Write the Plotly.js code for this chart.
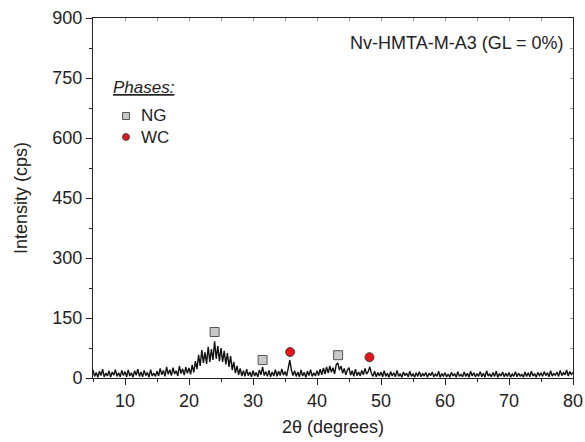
<!DOCTYPE html>
<html><head><meta charset="utf-8">
<script src="https://cdn.plot.ly/plotly-3.0.1.min.js"></script>
<style>body{margin:0;background:#fff}#c{width:585px;height:442px}</style>
</head><body><div id="c"></div>
<script>
// XRD intensity, 2θ from 5 to 80 step 0.25
const intensity = [
20,4,14,2,17,6,22,3,12,5,18,2,15,7,21,4,13,3,19,6,
16,3,20,5,13,2,18,7,22,4,15,3,19,6,14,2,21,5,12,4,
17,5,24,8,19,4,28,9,21,6,26,10,18,5,30,11,23,7,27,12,
25,9,33,14,42,22,58,30,70,38,64,35,78,40,72,45,92,48,80,42,
75,40,68,34,62,28,55,20,40,12,30,8,24,5,18,4,22,6,15,3,
18,5,14,3,20,8,28,6,16,4,19,3,15,5,21,4,17,6,23,7,
16,5,24,45,20,6,18,4,15,3,20,5,14,2,17,6,21,4,13,5,
18,6,22,8,25,10,28,12,30,14,26,10,33,38,20,30,12,24,8,20,
26,7,18,4,22,6,15,5,19,8,24,10,16,28,12,4,17,3,14,5,
15,3,18,4,12,2,16,5,13,3,19,4,11,2,15,6,12,3,17,4,
10,2,13,4,16,3,11,5,14,2,12,6,15,3,10,4,17,2,11,5,
13,3,10,2,14,5,11,2,16,4,9,3,15,4,12,2,17,5,13,3,
11,4,16,3,12,2,18,5,10,3,14,4,17,2,11,5,15,3,12,4,
14,2,10,4,16,3,12,5,9,2,15,4,13,3,17,5,11,2,14,6,
12,4,16,6,13,3,18,5,11,7,15,4,19,6,13,8,20,5,16,9,
14];
const ngX = [24.0, 31.5, 43.3];
const ngY = [115, 45, 57];
const wcX = [35.8, 48.2];
const wcY = [65, 52];
const xTicks = [10,20,30,40,50,60,70,80];
const yTicks = [0,150,300,450,600,750,900];
const phaseNames = ['NG', 'WC'];

const traces = [
  {type:'scatter', mode:'lines', x0:5, dx:0.25, y:intensity, line:{color:'#111', width:1.4}, showlegend:false, hoverinfo:'skip'},
  {type:'scatter', mode:'markers', name:phaseNames[0], x:ngX, y:ngY, showlegend:false, marker:{symbol:'square', size:9, color:'#c8c8c8', line:{color:'#555', width:1}}},
  {type:'scatter', mode:'markers', name:phaseNames[1], x:wcX, y:wcY, showlegend:false, marker:{symbol:'circle', size:9, color:'#e8141c', line:{color:'#444', width:1}}},
  {type:'scatter', mode:'none', x:ngX, y:ngY, xaxis:'x2', yaxis:'y2', showlegend:false, hoverinfo:'skip'}
];
const font = {family:'Liberation Sans, Arial, sans-serif', size:18, color:'#222'};
const layout = {
  width:585, height:442,
  margin:{l:93, r:12, t:18, b:64},
  paper_bgcolor:'#fff', plot_bgcolor:'#fff',
  font:font,
  showlegend:false,
  xaxis:{range:[5,80], tickvals:xTicks, ticks:'outside', ticklen:6, tickcolor:'#222', showline:true, linecolor:'#222', linewidth:1, mirror:true, showgrid:false, zeroline:false,
    minor:{dtick:5, ticks:'outside', ticklen:3, tickcolor:'#222'},
    title:{text:'2θ (degrees)', font:{size:18}, standoff:10}},
  yaxis:{range:[0,900], tickvals:yTicks, ticks:'outside', ticklen:6, tickcolor:'#222', showline:true, linecolor:'#222', linewidth:1, mirror:true, showgrid:false, zeroline:false,
    minor:{dtick:75, ticks:'outside', ticklen:3, tickcolor:'#222'},
    title:{text:'Intensity (cps)', font:{size:18}, standoff:20}},
  xaxis2:{overlaying:'x', side:'top', range:[5,80], tick0:5, dtick:5, ticks:'inside', ticklen:3, tickcolor:'#999', showticklabels:false, showline:false, showgrid:false, zeroline:false},
  yaxis2:{overlaying:'y', side:'right', range:[0,900], tick0:0, dtick:75, ticks:'inside', ticklen:3, tickcolor:'#999', showticklabels:false, showline:false, showgrid:false, zeroline:false},
  shapes:[
    {type:'rect', xref:'paper', yref:'paper', x0:0.0615, x1:0.076, y0:0.718, y1:0.7375, fillcolor:'#c8c8c8', line:{color:'#555', width:1}},
    {type:'circle', xref:'paper', yref:'paper', x0:0.0615, x1:0.076, y0:0.660, y1:0.679, fillcolor:'#e8141c', line:{color:'#444', width:1}}
  ],
  annotations:[
    {text:'Nv-HMTA-M-A3 (GL = 0%)', xref:'paper', yref:'paper', x:0.985, y:0.965, xanchor:'right', yanchor:'top', showarrow:false, font:{size:18}},
    {text:'<i><u>Phases:</u></i>', xref:'paper', yref:'paper', x:0.038, y:0.806, xanchor:'left', yanchor:'middle', showarrow:false, font:{size:17}},
    {text:phaseNames[0], xref:'paper', yref:'paper', x:0.096, y:0.728, xanchor:'left', yanchor:'middle', showarrow:false, font:{size:17}},
    {text:phaseNames[1], xref:'paper', yref:'paper', x:0.096, y:0.669, xanchor:'left', yanchor:'middle', showarrow:false, font:{size:17}}
  ]
};
Plotly.newPlot('c', traces, layout, {displayModeBar:false, staticPlot:true});
</script></body></html>
